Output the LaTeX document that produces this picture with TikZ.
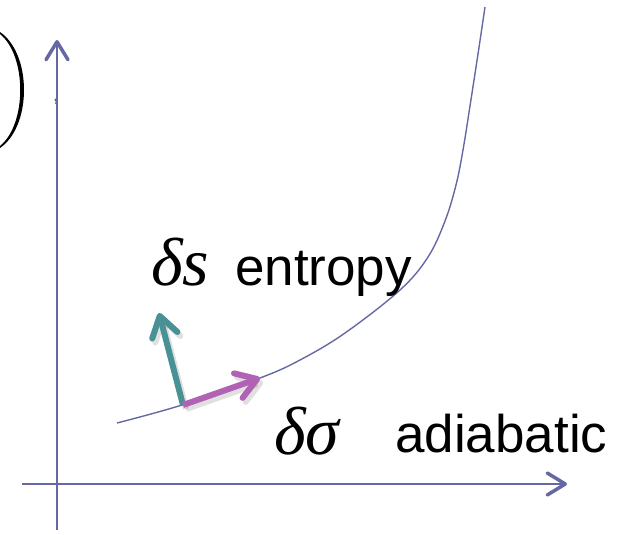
\documentclass[tikz,border=0pt]{standalone}
\usepackage{fontspec}
\setmainfont{Liberation Sans}
\newfontfamily\mathserif{Liberation Serif}
\usetikzlibrary{arrows.meta}
\definecolor{axisblue}{RGB}{102,104,162}
\definecolor{tealarrow}{RGB}{72,146,150}
\definecolor{magarrow}{RGB}{178,98,180}
\definecolor{commabrown}{RGB}{150,80,30}
\begin{document}
\begin{tikzpicture}[x=1pt,y=-1pt,
  axisline/.style={draw=axisblue, line width=2pt,
    -{Straight Barb[length=18pt,width=22pt,line width=3.5pt,round]}},
  vec/.style={line width=6pt,
    -{Straight Barb[length=20pt,width=26pt,line width=6pt,round]}},
  vecshadow/.style={vec, draw=black, opacity=0.12},
  mathlbl/.style={anchor=base west, inner sep=0pt, font=\mathserif\itshape\fontsize{68}{74}\selectfont},
  wordlbl/.style={anchor=base west, inner sep=0pt, font=\fontsize{53}{60}\selectfont}]
\useasboundingbox (0,0) rectangle (621,535);
% leftover bracket and comma
\begin{scope}
  \clip (0,0) rectangle (621,535);
  \fill[black] (0,32) .. controls (32,54) and (32,126) .. (0,148)
    -- (0,146) .. controls (27,124) and (27,56) .. (0,34) -- cycle;
\end{scope}
\node[text=commabrown, inner sep=0pt, font=\fontsize{22}{24}\selectfont] (comma) at (56,102) {,};
% axes
\coordinate (ybot) at (57,530);
\coordinate (ytop) at (57,40);
\coordinate (xl) at (22,484);
\coordinate (xr) at (567,484);
\draw[axisline] (ybot) -- (ytop);
\draw[axisline] (xl) -- (xr);
% curve
\draw[axisblue, line width=1.4pt] plot[smooth, tension=0.6] coordinates {
  (117,423) (182,405) (260,378) (300,360) (345,333) (400,290) (428,257)
  (445,221) (456,185) (463,150) (470,106) (478,54) (485,7)};
% vectors
\coordinate (o) at (183,405);
\coordinate (ts) at (159,313);
\coordinate (ms) at (260,378);
\coordinate (os) at (186,409);
\coordinate (tss) at (162,317);
\coordinate (mss) at (263,382);
\draw[vecshadow] (os) -- (tss);
\draw[vecshadow] (os) -- (mss);
\draw[vec, draw=tealarrow] (o) -- (ts);
\draw[vec, draw=magarrow] (o) -- (ms);
% labels
\node[mathlbl] (ds) at (151,285) {δs};
\node[wordlbl] (entropy) at (235,285) {entropy};
\node[mathlbl] (dsig) at (274,454) {δσ};
\node[wordlbl] (adiab) at (395,452) {adiabatic};
\end{tikzpicture}
\end{document}
